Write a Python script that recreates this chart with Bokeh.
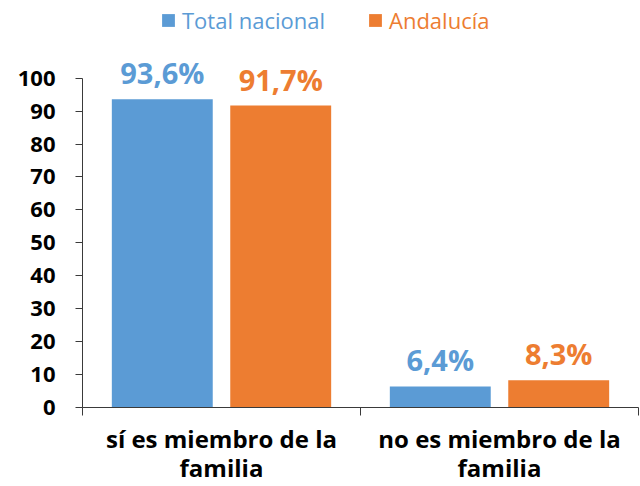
from bokeh.plotting import figure
from bokeh.models import (Range1d, FixedTicker, ColumnDataSource, Legend, LegendItem)
from bokeh.core.properties import value
from bokeh.embed import file_html
from bokeh.resources import INLINE

categories = ["sí es miembro de la\nfamilia", "no es miembro de la\nfamilia"]
series_names = ["Total nacional", "Andalucía"]
total_nacional = [93.6, 6.4]
andalucia = [91.7, 8.3]
y_ticks = [0, 10, 20, 30, 40, 50, 60, 70, 80, 90, 100]

BLUE = "#5B9BD5"
ORANGE = "#ED7D31"
FONT = "Open Sans"
AXIS = "#3a3a3a"

p = figure(width=640, height=486, output_backend="svg", toolbar_location=None,
           x_range=Range1d(0, len(categories)), y_range=Range1d(0, 123.6),
           min_border_left=82, min_border_right=2, min_border_top=0, min_border_bottom=78)
p.outline_line_color = None
p.xgrid.visible = False
p.ygrid.visible = False
p.background_fill_color = "white"

def fmt(v):
    return f"{v:.1f}".replace(".", ",") + "%"

offset = 0.213
bw = 0.363
centers = [i + 0.5 for i in range(len(categories))]
src_b = ColumnDataSource(dict(x=[c - offset for c in centers], top=total_nacional,
                              lab=[fmt(v) for v in total_nacional]))
src_o = ColumnDataSource(dict(x=[c + offset for c in centers], top=andalucia,
                              lab=[fmt(v) for v in andalucia]))

rb = p.vbar(x="x", top="top", width=bw, bottom=0, source=src_b, fill_color=BLUE, line_color=None)
ro = p.vbar(x="x", top="top", width=bw, bottom=0, source=src_o, fill_color=ORANGE, line_color=None)

for src, col in ((src_b, BLUE), (src_o, ORANGE)):
    p.text(x="x", y="top", text="lab", source=src, text_color=col,
           text_font=value(FONT), text_font_style="bold", text_font_size="29px",
           text_align="center", text_baseline="bottom", y_offset=-7)

# y axis
ya = p.yaxis[0]
ya.ticker = FixedTicker(ticks=y_ticks, minor_ticks=[])
ya.bounds = (0, 100)
ya.axis_line_color = AXIS
ya.major_tick_line_color = AXIS
ya.major_tick_in = 0
ya.major_tick_out = 7
ya.minor_tick_line_color = None
ya.major_label_text_font = FONT
ya.major_label_text_font_style = "bold"
ya.major_label_text_font_size = "22px"
ya.major_label_text_color = "black"
ya.major_label_standoff = 20

# x axis
xa = p.xaxis[0]
xa.ticker = FixedTicker(ticks=centers, minor_ticks=list(range(len(categories) + 1)))
xa.major_label_overrides = {c: cat for c, cat in zip(centers, categories)}
xa.axis_line_color = AXIS
xa.major_tick_line_color = None
xa.minor_tick_line_color = AXIS
xa.minor_tick_in = 0
xa.minor_tick_out = 8
xa.major_label_text_font = FONT
xa.major_label_text_font_style = "bold"
xa.major_label_text_font_size = "24px"
xa.major_label_text_line_height = 0.88
xa.major_label_text_color = "black"
xa.major_label_standoff = 6

# legends, one per series so each label gets its series colour
for name, rend, col, xloc in ((series_names[0], rb, BLUE, 78), (series_names[1], ro, ORANGE, 285)):
    lg = Legend(items=[LegendItem(label=name, renderers=[rend])], location=(xloc, 372),
                orientation="horizontal", padding=0, margin=0, spacing=0,
                glyph_width=16, glyph_height=16, label_standoff=6, label_height=24,
                label_text_font=FONT, label_text_font_size="22px", label_text_color=col,
                border_line_color=None, background_fill_alpha=0)
    p.add_layout(lg, "center")

open("out.html", "w").write(file_html(p, INLINE))
